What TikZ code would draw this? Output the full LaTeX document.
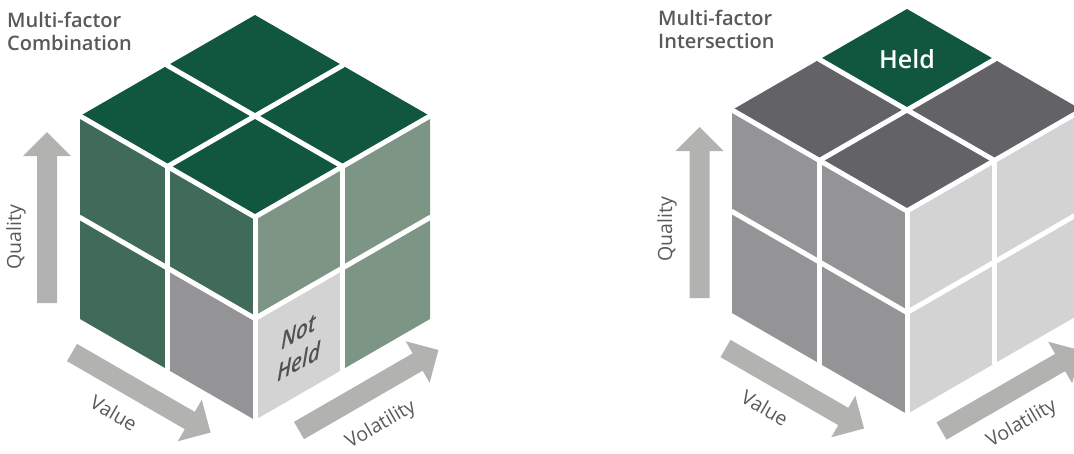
\documentclass[tikz,border=0pt]{standalone}
\usepackage{fontspec}
\setmainfont{Open Sans}
\IfFontExistsTF{Open Sans Semibold}{\newfontfamily\semib{Open Sans Semibold}}{\newfontfamily\semib{Open Sans}[UprightFont={* Bold},ItalicFont={* Bold Italic}]}
\definecolor{topgreen}{HTML}{11563E}
\definecolor{midgreen}{HTML}{416B59}
\definecolor{lightgreen}{HTML}{7D9585}
\definecolor{darkgrey}{HTML}{636367}
\definecolor{midgrey}{HTML}{949396}
\definecolor{lightgrey}{HTML}{D4D3D4}
\definecolor{arrowgrey}{HTML}{B2B2B0}
\definecolor{txtgrey}{HTML}{58595B}
\newcommand\topcell[3]{\fill[#3] ({(#2-#1)*87.5},{-(#1+#2)*50.5}) -- ({(#2-#1-1)*87.5},{-(#1+#2+1)*50.5}) -- ({(#2-#1)*87.5},{-(#1+#2+2)*50.5}) -- ({(#2-#1+1)*87.5},{-(#1+#2+1)*50.5}) -- cycle;}
\newcommand\leftcell[3]{\fill[#3] ({-#1*87.5},{-#1*50.5+#2*101.5}) -- ({-(#1+1)*87.5},{-(#1+1)*50.5+#2*101.5}) -- ({-(#1+1)*87.5},{-(#1+1)*50.5+(#2+1)*101.5}) -- ({-#1*87.5},{-#1*50.5+(#2+1)*101.5}) -- cycle;}
\newcommand\rightcell[3]{\fill[#3] ({#1*87.5},{-#1*50.5+#2*101.5}) -- ({(#1+1)*87.5},{-(#1+1)*50.5+#2*101.5}) -- ({(#1+1)*87.5},{-(#1+1)*50.5+(#2+1)*101.5}) -- ({#1*87.5},{-#1*50.5+(#2+1)*101.5}) -- cycle;}
\newcommand\cubegaps{%
  \draw[gap] (0,0) -- (-175,-101);
  \draw[gap] (0,0) -- (175,-101);
  \draw[gap] (0,0) -- (0,203);
  \draw[gap] (-87.5,-50.5) -- (87.5,-151.5);
  \draw[gap] (87.5,-50.5) -- (-87.5,-151.5);
  \draw[gap] (-87.5,-50.5) -- (-87.5,152.5);
  \draw[gap] (0,101.5) -- (-175,0.5);
  \draw[gap] (87.5,-50.5) -- (87.5,152.5);
  \draw[gap] (0,101.5) -- (175,0.5);}
\newcommand\fatarrow[4]{\fill[arrowgrey, shift={(#1,#2)}, rotate=#3] (0,-10) -- ({#4-24},-10) -- ({#4-24},-24) -- (#4,0) -- ({#4-24},24) -- ({#4-24},10) -- (0,10) -- cycle;}
\tikzset{
  gap/.style={draw=white, line width=5pt, line cap=round},
  title/.style={font=\semib\fontsize{20}{24}\selectfont, text=txtgrey, inner sep=0pt},
  lab/.style={font=\fontsize{19.5}{23}\selectfont, text=txtgrey, inner sep=0pt},
  nh/.style={font=\semib\itshape\fontsize{24}{30}\selectfont, text=txtgrey!90!black, inner sep=0pt, align=center},
  heldlab/.style={font=\semib\fontsize{25}{30}\selectfont, text=white, inner sep=0pt}
}
\begin{document}
\begin{tikzpicture}[x=1pt, y=-1pt]
\useasboundingbox (0,0) rectangle (1074,453);
\clip (0,0) rectangle (1074,453);
% ---------- left cube ----------
\begin{scope}[shift={(255,217)}]
  \topcell{0}{0}{topgreen}\topcell{1}{0}{topgreen}\topcell{0}{1}{topgreen}\topcell{1}{1}{topgreen}
  \leftcell{0}{0}{midgreen}\leftcell{1}{0}{midgreen}\leftcell{1}{1}{midgreen}\leftcell{0}{1}{midgrey}
  \rightcell{0}{0}{lightgreen}\rightcell{1}{0}{lightgreen}\rightcell{1}{1}{lightgreen}\rightcell{0}{1}{lightgrey}
  \cubegaps
\end{scope}
% ---------- right cube ----------
\begin{scope}[shift={(907,211)}]
  \topcell{0}{0}{darkgrey}\topcell{1}{0}{darkgrey}\topcell{0}{1}{darkgrey}\topcell{1}{1}{topgreen}
  \leftcell{0}{0}{midgrey}\leftcell{1}{0}{midgrey}\leftcell{1}{1}{midgrey}\leftcell{0}{1}{midgrey}
  \rightcell{0}{0}{lightgrey}\rightcell{1}{0}{lightgrey}\rightcell{1}{1}{lightgrey}\rightcell{0}{1}{lightgrey}
  \cubegaps
\end{scope}
% ---------- arrows ----------
\fatarrow{47}{303}{90}{171}
\fatarrow{72}{352.5}{-30}{160}
\fatarrow{299}{430.5}{30}{161}
\fatarrow{699.5}{298}{90}{171}
\fatarrow{725.5}{348.5}{-30}{160}
\fatarrow{941.5}{431}{30}{161}
% ---------- texts ----------
\node[title, anchor=base west] (t1a) at (7,27) {Multi-factor};
\node[title, anchor=base west] (t1b) at (7,50) {Combination};
\node[title, anchor=base west] (t2a) at (658,25) {Multi-factor};
\node[title, anchor=base west] (t2b) at (658,48) {Intersection};
\node[lab, rotate=90, anchor=base] (q1) at (21,237) {Quality};
\node[lab, rotate=-30] (v1) at (114,413) {Value};
\node[lab, rotate=30] (vo1) at (381,425) {Volatility};
\node[lab, rotate=90, anchor=base] (q2) at (672,229) {Quality};
\node[lab, rotate=-30] (v2) at (765,408) {Value};
\node[lab, rotate=30] (vo2) at (1022,424) {Volatility};
\node[nh, cm={0.866,0.5,0,1,(0,0)}] (nh) at (299,347) {Not\\Held};
\node[heldlab] (held) at (907,59.5) {Held};
\end{tikzpicture}
\end{document}
